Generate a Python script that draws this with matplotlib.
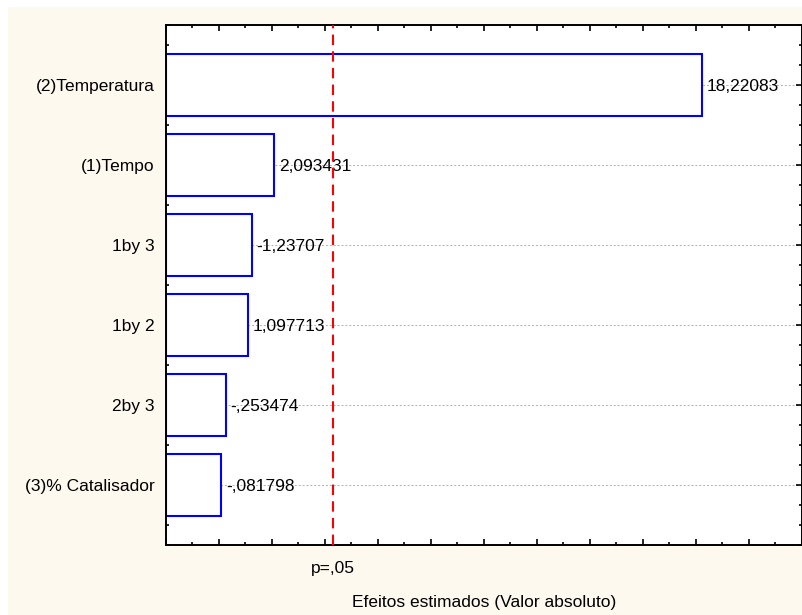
import matplotlib
matplotlib.use("Agg")
import matplotlib.pyplot as plt
from matplotlib.patches import Rectangle
from matplotlib.ticker import MultipleLocator
import matplotlib.transforms as mtransforms

# effects, largest first (Pareto order)
factors = ["(2)Temperatura", "(1)Tempo", "1by 3", "1by 2", "2by 3", "(3)% Catalisador"]
effects = [18.22083, 2.093431, -1.23707, 1.097713, -0.253474, -0.081798]
effect_labels = ["18,22083", "2,093431", "-1,23707", "1,097713", "-,253474", "-,081798"]
p_value = 4.303
p_label = "p=,05"

plt.rcParams["font.family"] = ["Liberation Sans", "DejaVu Sans"]

fig = plt.figure(figsize=(8.03, 6.15), dpi=100, facecolor="white")
# cream panel behind everything
fig.patches.append(Rectangle((8 / 803, 0), 1, 1 - 7 / 615, transform=fig.transFigure,
                             facecolor="#fdf9ef", edgecolor="none", zorder=-10))

ax = fig.add_axes([166 / 803, 1 - 545 / 615, 636 / 803, 520 / 615])
ax.set_facecolor("white")

xmin, xmax = -2, 22
ypos = list(range(len(factors)))
widths = [abs(v) - xmin for v in effects]
ax.barh(ypos, widths, left=xmin, height=0.78, color="white",
        edgecolor="#0000ff", linewidth=1.5, zorder=2)

for y, v, lab in zip(ypos, effects, effect_labels):
    ax.text(abs(v) + 0.18, y + 0.02, lab, va="center", ha="left", fontsize=12.5, zorder=3)

ax.axvline(p_value, color="#ff0000", linestyle=(0, (5, 3)), linewidth=1.5, zorder=4)
trans = mtransforms.blended_transform_factory(ax.transData, ax.transAxes)
ax.text(p_value, -0.03, p_label, transform=trans, ha="center", va="top", fontsize=12.5)

for y in ypos:
    ax.axhline(y, color="#b0b0b0", linestyle=(0, (2, 2)), linewidth=0.7, zorder=1)

ax.set_xlim(xmin, xmax)
ax.set_ylim(len(factors) - 0.25, -0.75)
ax.set_yticks(ypos)
ax.set_yticklabels(factors, fontsize=12.5)
ax.yaxis.set_minor_locator(MultipleLocator(0.25))
ax.xaxis.set_major_locator(MultipleLocator(2))
ax.xaxis.set_minor_locator(MultipleLocator(1))
ax.tick_params(axis="x", which="both", labelbottom=False, top=True, direction="in")
ax.tick_params(axis="y", which="both", right=True, direction="in")
ax.tick_params(which="major", length=4, width=1.2, pad=8)
ax.tick_params(which="minor", length=2.5, width=1.2)
for s in ax.spines.values():
    s.set_linewidth(1.4)

ax.set_xlabel("Efeitos estimados (Valor absoluto)", fontsize=12.5, labelpad=36)

fig.savefig("out.png", dpi=100)
